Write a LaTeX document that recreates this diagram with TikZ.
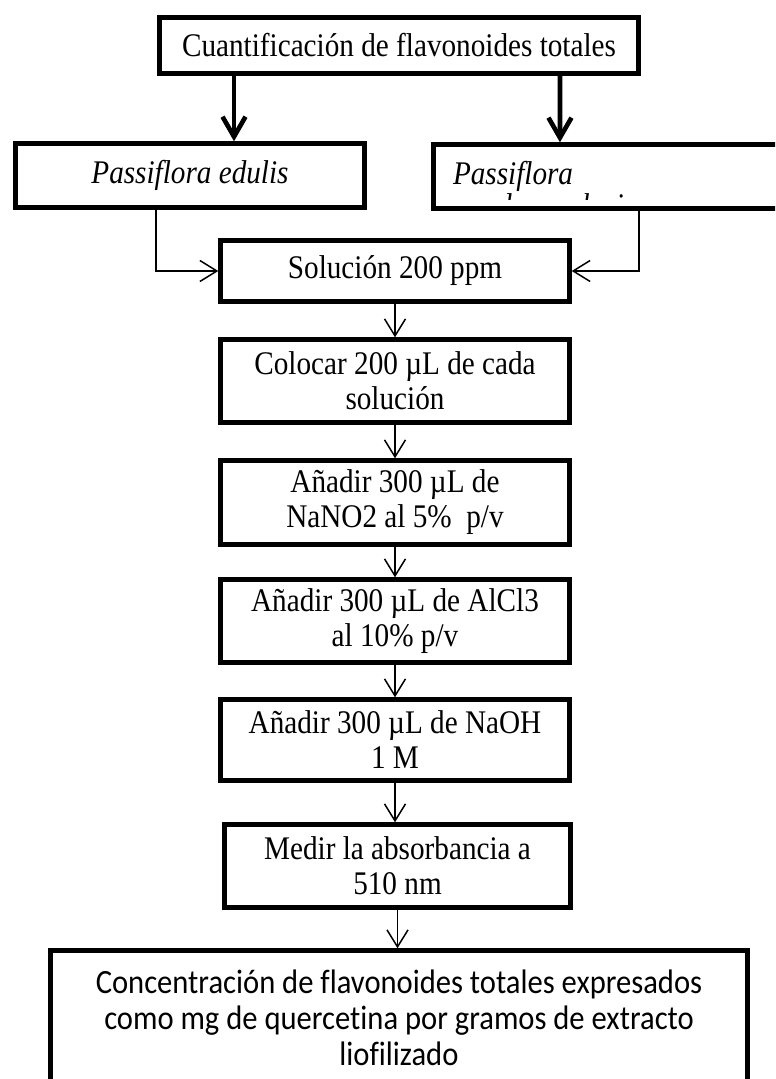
\documentclass[tikz,border=0pt]{standalone}
\usepackage{fontspec}
\setmainfont{Liberation Serif}[FakeStretch=0.885]
\newfontfamily\calibri{Carlito}[FakeStretch=0.9, Ligatures=NoCommon]
\usetikzlibrary{arrows.meta}

\begin{document}
\begin{tikzpicture}[x=0.5pt, y=-0.5pt,
    box/.style={draw, line width=2.2pt, inner sep=0pt, align=center,
        font=\fontsize{16.5}{17.5}\selectfont},
    link/.style={line width=0.75pt, -{Straight Barb[length=8.5pt, width=10.5pt]}},
    bigarrow/.style={line width=2.3pt, -{Straight Barb[length=10pt, width=11.5pt]}}]
    \path [use as bounding box, clip] (0, 0) rectangle (775, 1079);
    \node [box, minimum width=239.5pt, minimum height=28pt] (cuant) at (399, 45.5) {Cuantificación de flavonoides totales};
    \node [box, minimum width=174.5pt, minimum height=32pt] (edulis) at (190, 175.5) {\itshape Passiflora edulis};
    \node [box, inner xsep=9.75pt, text width=173.75pt, align=left, minimum height=32pt] (quadr) at (626.75, 176.5) {\itshape Passiflora};
    % second line of the name, cut off inside the box
    \begin{scope}
        \clip (431, 150) rectangle (775, 200);
        \node [anchor=base west, inner sep=0pt, font=\fontsize{16.5}{17.5}\selectfont\itshape] (quadr2) at (453, 217) {quadrangularis};
    \end{scope}
    \draw [bigarrow] ([xshift=-82.5pt]cuant.south) -- ([xshift=22pt]edulis.north);
    \draw [bigarrow] ([xshift=80.5pt]cuant.south) -- ([xshift=-33.4pt]quadr.north);
    \node [box, minimum width=174.5pt, minimum height=30.5pt] (sol) at (395, 271) {Solución 200 ppm};
    \draw [link] ([xshift=-17pt]edulis.south) |- (sol.west);
    \draw [link] ([xshift=6.1pt]quadr.south) |- (sol.east);
    \node [box, minimum width=174.5pt, minimum height=41.5pt] (col) at (395, 381) {Colocar 200 µL de cada\\solución};
    \node [box, minimum width=174.5pt, minimum height=42pt] (nano) at (395, 502.5) {Añadir 300 µL de\\NaNO2 al 5\%\ \ p/v};
    \node [box, minimum width=174.5pt, minimum height=41.5pt] (alcl) at (395, 621) {Añadir 300 µL de AlCl3\\al 10\% p/v};
    \node [box, minimum width=174.5pt, minimum height=40.5pt] (naoh) at (395, 740) {Añadir 300 µL de NaOH\\1 M};
    \node [box, minimum width=173pt, minimum height=41.5pt] (medir) at (397.5, 866) {Medir la absorbancia a\\510 nm};
    \node [box, minimum width=348.5pt, minimum height=67pt, font=\calibri\fontsize{17}{18}\selectfont] (conc) at (399, 1017.5) {Concentración de flavonoides totales expresados\\como mg de quercetina por gramos de extracto\\liofilizado};
    \draw [link] (sol.south) -- (sol.south |- col.north);
    \draw [link] (col.south) -- (col.south |- nano.north);
    \draw [link] (nano.south) -- (nano.south |- alcl.north);
    \draw [link] (alcl.south) -- (alcl.south |- naoh.north);
    \draw [link] (naoh.south) -- (naoh.south |- medir.north);
    \draw [link] (medir.south) -- (medir.south |- conc.north);
\end{tikzpicture}
\end{document}
